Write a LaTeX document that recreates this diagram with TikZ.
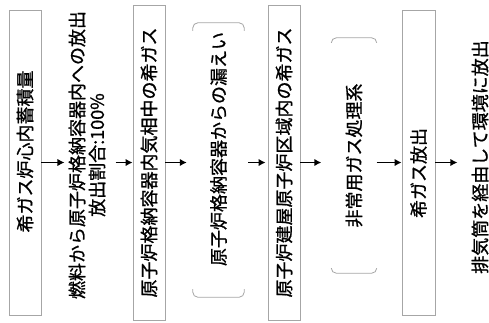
\documentclass[tikz,border=0pt]{standalone}
\usepackage{fontspec}
\setmainfont[FakeBold=1]{Noto Sans CJK JP}
\usetikzlibrary{positioning,arrows.meta,calc}

\begin{document}
\begin{tikzpicture}[x=1pt,y=-1pt,
    box/.style={draw=black!35,line width=0.8pt,rotate=90,inner sep=0pt,minimum height=32pt},
    txt/.style={rotate=90,inner sep=0pt,align=center},
    flow/.style={-{Latex[length=7pt,width=7.5pt]},line width=1.7pt},
    brk/.style={draw=black!35,line width=0.8pt,rounded corners=5pt},
    every node/.style={font=\fontsize{18pt}{20pt}\selectfont}]
  \useasboundingbox (0,0) rectangle (489,322);
  \node[box,minimum width=305pt] (core) at (25,162.5) {\hspace*{22pt}希ガス炉心内蓄積量};
  \node[txt,text width=290pt] (fuel) at (87,155) {燃料から原子炉格納容器内への放出\\放出割合:100\%};
  \node[box,minimum width=315pt] (cv) at (149,162.5) {原子炉格納容器内気相中の希ガス};
  \node[txt,minimum width=274pt,minimum height=51pt] (leak) at (218.5,160) {\hspace*{22pt}原子炉格納容器からの漏えい};
  \node[box,minimum width=315pt] (rb) at (284,162.5) {原子炉建屋原子炉区域内の希ガス};
  \node[txt,minimum width=235pt,minimum height=45pt] (sgts) at (354,155.5) {非常用ガス処理系};
  \node[box,minimum width=305pt,minimum height=33pt] (rel) at (418.5,162.5) {希ガス放出\hspace*{21pt}};
  \node[txt] (vent) at (480,157) {排気筒を経由して環境に放出};
  \draw[brk] ($(leak.north east)+(0,8)$) -- (leak.north east) -- (leak.south east) -- ($(leak.south east)+(0,8)$);
  \draw[brk] ($(leak.north west)+(0,-8)$) -- (leak.north west) -- (leak.south west) -- ($(leak.south west)+(0,-8)$);
  \draw[brk] ($(sgts.north east)+(0,5)$) -- (sgts.north east) -- (sgts.south east) -- ($(sgts.south east)+(0,5)$);
  \draw[brk] ($(sgts.north west)+(0,-5)$) -- (sgts.north west) -- (sgts.south west) -- ($(sgts.south west)+(0,-5)$);
  \draw[flow,shorten >=4pt] (core.south) -- (core.south -| fuel.north);
  \draw[flow,shorten <=10pt] (cv.north -| fuel.south) -- (cv.north);
  \draw[flow,shorten >=6pt] (cv.south) -- (cv.south -| leak.north);
  \draw[flow,shorten <=4pt,shorten >=2pt] (rb.north -| leak.south) -- (rb.north);
  \draw[flow,shorten >=10pt] (rb.south) -- (rb.south -| sgts.north);
  \draw[flow] (rel.north -| sgts.south) -- (rel.north);
  \draw[flow,shorten >=14pt] (rel.south) -- (rel.south -| vent.north);
\end{tikzpicture}
\end{document}
